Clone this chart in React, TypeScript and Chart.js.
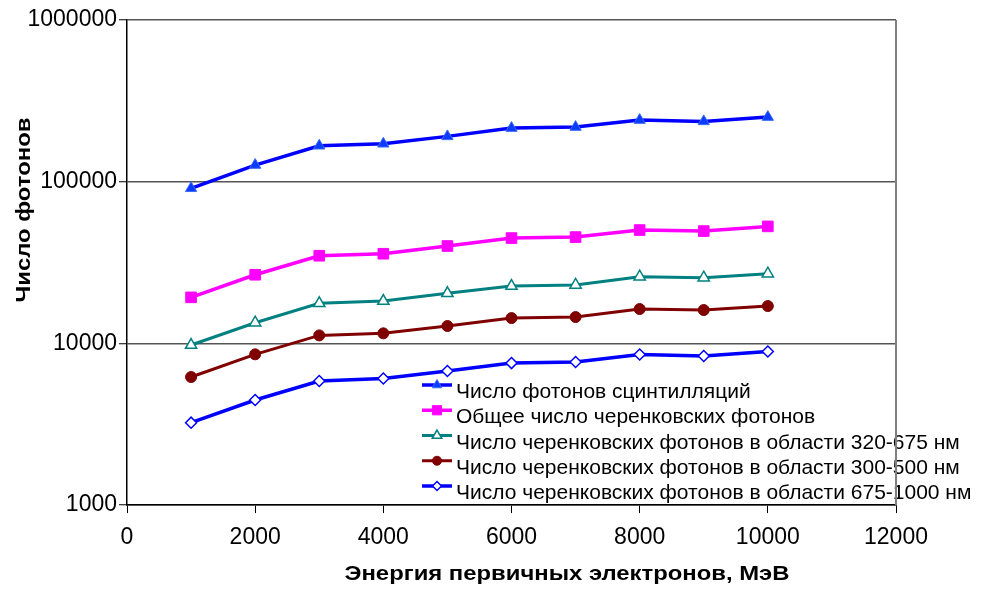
import React, { useEffect, useRef } from "react";
import { Chart, registerables } from "chart.js";
import { drawPoint } from "chart.js/helpers";

Chart.register(...registerables);

// ---- data ----
const energies = [1000, 2000, 3000, 4000, 5000, 6000, 7000, 8000, 9000, 10000];
const scintillation = [91000, 126700, 166700, 171500, 190600, 214400, 217600, 240400, 236000, 250800];
const cherenkovTotal = [19250, 26560, 34820, 35830, 39990, 44780, 45420, 50200, 49460, 52890];
const cherenkov320_675 = [9760, 13410, 17670, 18270, 20390, 22620, 22960, 25820, 25450, 26950];
const cherenkov300_500 = [6190, 8550, 11200, 11530, 12800, 14330, 14540, 16300, 16070, 17010];
const cherenkov675_1000 = [3230, 4460, 5845, 6060, 6740, 7550, 7660, 8530, 8350, 8900];
const seriesLabels = [
  "Число фотонов сцинтилляций",
  "Общее число черенковских фотонов",
  "Число черенковских фотонов в области 320-675 нм",
  "Число черенковских фотонов в области 300-500 нм",
  "Число черенковских фотонов в области 675-1000 нм",
];
const yTickValues = [1000, 10000, 100000, 1000000];
const xTitle = "Энергия первичных электронов, МэВ";
const yTitle = "Число фотонов";

const FONT = "'Liberation Sans', Arial, sans-serif";

const toPoints = (vals: number[]) => energies.map((x, i) => ({ x, y: vals[i] }));

const styles = [
  { line: "#0000FF", fill: "#0A3CFF", border: "#3A6BFF", style: "triangle", radius: 6.5, lw: 3.5, bw: 1 },
  { line: "#FF00FF", fill: "#FF00FF", border: "#FF00FF", style: "rect", radius: 7.5, lw: 3.5, bw: 1 },
  { line: "#008080", fill: "#FFFFFF", border: "#008080", style: "triangle", radius: 6.5, lw: 3, bw: 1.5 },
  { line: "#800000", fill: "#800000", border: "#800000", style: "circle", radius: 5.5, lw: 3, bw: 1 },
  { line: "#0000FF", fill: "#FFFFFF", border: "#0000FF", style: "rectRot", radius: 5.5, lw: 3.5, bw: 1.5 },
];

const seriesValues = [scintillation, cherenkovTotal, cherenkov320_675, cherenkov300_500, cherenkov675_1000];

function drawStretched(ctx: CanvasRenderingContext2D, text: string, cx: number, cy: number, targetWidth: number, rotate: boolean) {
  ctx.save();
  ctx.translate(cx, cy);
  if (rotate) ctx.rotate(-Math.PI / 2);
  const w = ctx.measureText(text).width;
  ctx.scale(targetWidth / w, 1);
  ctx.fillText(text, 0, 0);
  ctx.restore();
}

const overlayPlugin = {
  id: "overlay",
  afterDraw(chart: any) {
    const { ctx, chartArea } = chart;
    ctx.save();
    // legend
    const lx0 = 422;
    const lx1 = 452;
    const tx = 456;
    const y0 = 385;
    const step = 25.25;
    chart.data.datasets.forEach((ds: any, i: number) => {
      const y = y0 + i * step;
      ctx.strokeStyle = ds.borderColor;
      ctx.lineWidth = ds.borderWidth;
      ctx.beginPath();
      ctx.moveTo(lx0, y);
      ctx.lineTo(lx1, y);
      ctx.stroke();
      ctx.fillStyle = ds.pointBackgroundColor;
      ctx.strokeStyle = ds.pointBorderColor;
      ctx.lineWidth = ds.pointBorderWidth;
      drawPoint(ctx, { pointStyle: ds.pointStyle, radius: ds.pointRadius - 1, rotation: 0, borderWidth: ds.pointBorderWidth }, (lx0 + lx1) / 2, y);
      ctx.fillStyle = "#000";
      ctx.font = `21px ${FONT}`;
      ctx.textAlign = "left";
      ctx.textBaseline = "alphabetic";
      ctx.fillText(ds.label, tx, y + 13);
    });

    // right border (drawn over legend as in reference)
    ctx.strokeStyle = "#808080";
    ctx.lineWidth = 2;
    ctx.beginPath();
    ctx.moveTo(chartArea.right, chartArea.top);
    ctx.lineTo(chartArea.right, chartArea.bottom);
    ctx.stroke();

    // axis titles
    ctx.fillStyle = "#000";
    ctx.font = `bold 20px ${FONT}`;
    ctx.textAlign = "center";
    ctx.textBaseline = "alphabetic";
    drawStretched(ctx, xTitle, 567, 580, 445, false);
    drawStretched(ctx, yTitle, 30, 210, 185, true);
    ctx.restore();
  },
};

export default function App() {
  const ref = useRef<HTMLCanvasElement | null>(null);
  useEffect(() => {
    if (!ref.current) return;
    const chart = new Chart(ref.current, {
      type: "line",
      data: {
        datasets: seriesValues.map((vals, i) => ({
          label: seriesLabels[i],
          data: toPoints(vals),
          borderColor: styles[i].line,
          borderWidth: styles[i].lw,
          pointStyle: styles[i].style as any,
          pointRadius: styles[i].radius,
          pointBackgroundColor: styles[i].fill,
          pointBorderColor: styles[i].border,
          pointBorderWidth: styles[i].bw,
          tension: 0,
          fill: false,
        })),
      },
      options: {
        responsive: false,
        animation: false,
        events: [],
        layout: { padding: { left: 0, top: 20, right: 88, bottom: 0 } },
        plugins: { legend: { display: false }, tooltip: { enabled: false }, title: { display: false } },
        scales: {
          x: {
            type: "linear",
            min: 0,
            max: 12000,
            ticks: {
              stepSize: 2000,
              color: "#000",
              padding: 11,
              font: { family: FONT, size: 23 },
              callback: (v: any) => String(v),
            },
            grid: { drawOnChartArea: false, drawTicks: true, tickLength: 8, tickColor: "#000", tickWidth: 1 },
            border: { display: true, color: "#000", width: 1.5 },
            afterFit: (s: any) => {
              s.height = 84;
            },
          },
          y: {
            type: "logarithmic",
            min: 1000,
            max: 1000000,
            afterBuildTicks: (s: any) => {
              s.ticks = yTickValues.map((v) => ({ value: v }));
            },
            ticks: {
              color: "#000",
              padding: 2,
              font: { family: FONT, size: 23 },
              callback: (v: any) => String(v),
            },
            grid: { color: "#555555", lineWidth: 1.5, drawTicks: true, tickLength: 8, tickColor: "#000", tickWidth: 1 },
            border: { display: true, color: "#000", width: 1.5 },
            afterFit: (s: any) => {
              s.width = 127;
            },
          },
        },
      },
      plugins: [overlayPlugin],
    });
    return () => chart.destroy();
  }, []);
  return (
    <div style={{ position: "absolute", left: 0, top: 0, width: 984, height: 589, background: "#fff" }}>
      <canvas ref={ref} width={984} height={589} style={{ display: "block" }} />
    </div>
  );
}
